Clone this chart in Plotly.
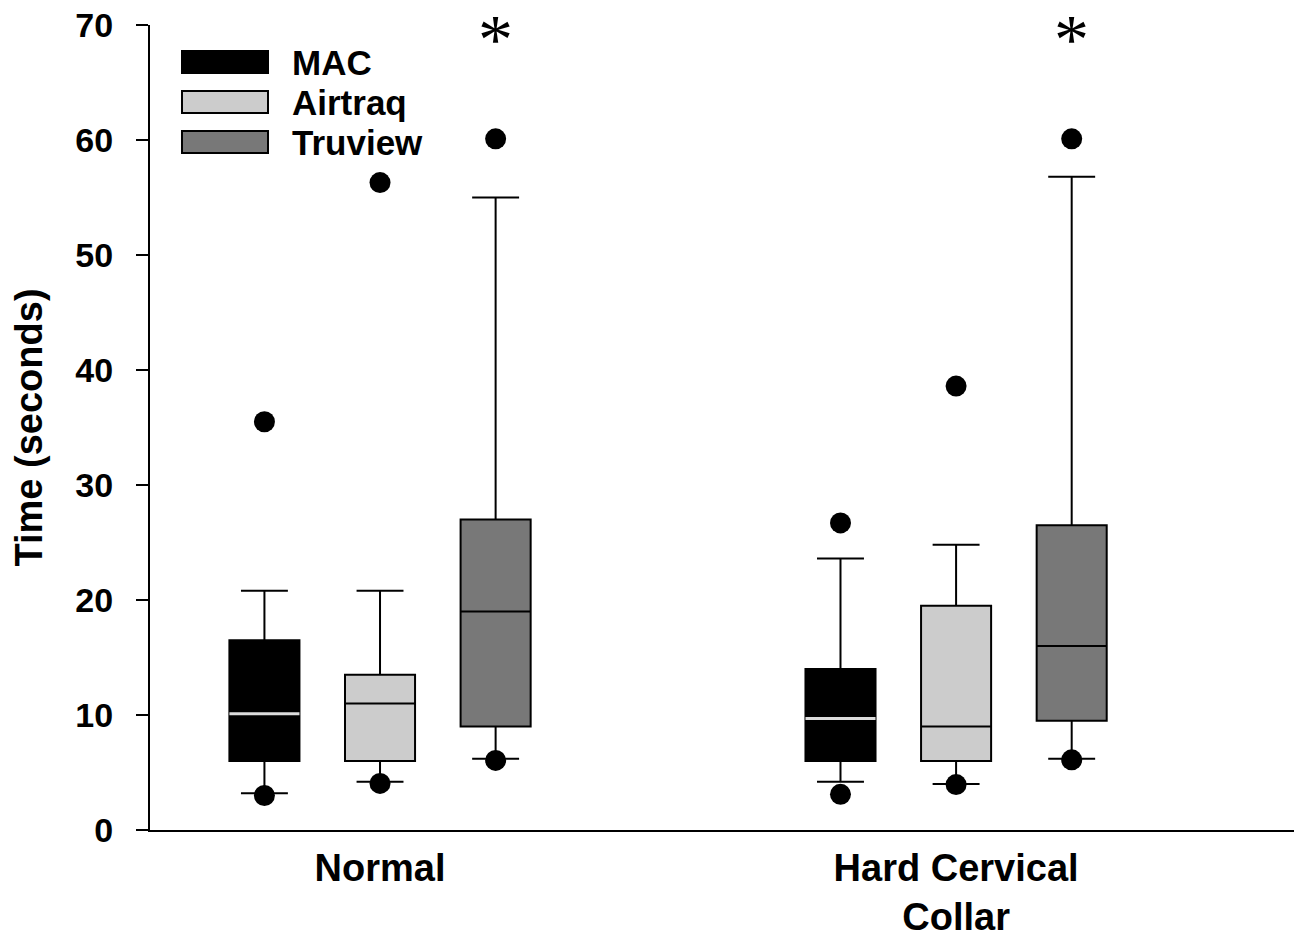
import plotly.graph_objects as go

# ---- data ----
categories = ["Normal", "Hard Cervical<br>Collar"]
series = ["MAC", "Airtraq", "Truview"]

mac_q1 = [6.0, 6.0]
mac_median = [10.1, 9.7]
mac_q3 = [16.5, 14.0]
mac_low = [3.2, 4.2]
mac_high = [20.8, 23.6]
mac_outliers = [[35.5, 3.0], [26.7, 3.1]]

air_q1 = [6.0, 6.0]
air_median = [11.0, 9.0]
air_q3 = [13.5, 19.5]
air_low = [4.2, 4.0]
air_high = [20.8, 24.8]
air_outliers = [[56.3, 4.05], [38.6, 3.95]]

tru_q1 = [9.0, 9.5]
tru_median = [19.0, 16.0]
tru_q3 = [27.0, 26.5]
tru_low = [6.2, 6.2]
tru_high = [55.0, 56.8]
tru_outliers = [[60.1, 6.05], [60.1, 6.1]]

significance = ["*", "*"]   # Truview marked in each condition
sig_level = [68.7, 68.7]

y_ticks = [0, 10, 20, 30, 40, 50, 60, 70]

# ---- styles ----
fills = {"MAC": "#000000", "Airtraq": "#cccccc", "Truview": "#787878"}
stats = {
    "MAC": (mac_q1, mac_median, mac_q3, mac_low, mac_high, mac_outliers),
    "Airtraq": (air_q1, air_median, air_q3, air_low, air_high, air_outliers),
    "Truview": (tru_q1, tru_median, tru_q3, tru_low, tru_high, tru_outliers),
}

fig = go.Figure()
for name in series:
    q1, med, q3, lo, hi, outl = stats[name]
    fig.add_trace(go.Box(
        name=name, x=categories, y=outl,
        q1=q1, median=med, q3=q3, lowerfence=lo, upperfence=hi,
        boxpoints="outliers", jitter=0, pointpos=0,
        fillcolor=fills[name],
        line=dict(color="black", width=2),
        marker=dict(color="black", size=21, line=dict(width=0)),
        whiskerwidth=0.67,
        offsetgroup=name, alignmentgroup="all",
        showlegend=False, hoverinfo="skip",
    ))
    if name == "MAC":
        # light median line drawn on top of the black box
        fig.add_trace(go.Box(
            name="MAC median", x=categories,
            q1=med, median=med, q3=med, lowerfence=med, upperfence=med,
            boxpoints=False, fillcolor="rgba(0,0,0,0)",
            line=dict(color="#dcdcdc", width=3),
            whiskerwidth=0,
            offsetgroup=name, alignmentgroup="all",
            showlegend=False, hoverinfo="skip",
        ))

# significance asterisks above the Truview boxes
for cat, s, lvl in zip(categories, significance, sig_level):
    fig.add_annotation(x=cat, y=lvl, text=s, showarrow=False,
                       xshift=115, yanchor="middle",
                       font=dict(family="Liberation Serif", size=70, color="black"))

# page offset of the plot (body margin of the html page)
OFF = 8
FIG_W, FIG_H = 1302, 935
# plot area in page pixels
L, R, T, B = 150, 1300, 25, 830
W, H = R - L, B - T

# manual legend (long swatches like the reference)
for i, name in enumerate(series):
    cy = 62 + 40 * i
    fig.add_shape(type="rect", xref="paper", yref="paper",
                  x0=(182 - L) / W, x1=(268 - L) / W,
                  y0=(B - cy - 11) / H, y1=(B - cy + 11) / H,
                  fillcolor=fills[name], line=dict(color="black", width=2))
    fig.add_annotation(xref="paper", yref="paper", x=(290 - L) / W, y=(B - cy) / H,
                       xanchor="left", yanchor="middle", showarrow=False,
                       text="<b>%s</b>" % name,
                       font=dict(family="Liberation Sans", size=35, color="black"))

fig.update_layout(
    width=FIG_W, height=FIG_H,
    margin=dict(l=L - OFF, r=FIG_W - (R - OFF), t=T - OFF, b=FIG_H - (B - OFF)),
    paper_bgcolor="white", plot_bgcolor="white",
    boxmode="group", boxgap=0.398, boxgroupgap=0.394,
    showlegend=False,
    font=dict(family="Liberation Sans", color="black"),
)
fig.update_xaxes(
    type="category", range=[-0.3993, 1.597], automargin=False,
    showline=True, linecolor="black", linewidth=2,
    ticks="", showgrid=False, zeroline=False,
    tickfont=dict(family="Liberation Sans", size=38, weight="bold"),
    ticklabelstandoff=3, ticklabeloverflow="allow",
)
fig.update_yaxes(
    range=[0, 70], tickvals=y_ticks, automargin=False,
    showline=True, linecolor="black", linewidth=2,
    ticks="outside", ticklen=12, tickwidth=2, tickcolor="black",
    showgrid=False, zeroline=False,
    tickfont=dict(family="Liberation Sans", size=34, weight="bold"),
    ticklabelstandoff=16, ticklabeloverflow="allow",
    title=dict(text="<b>Time (seconds)</b>", standoff=28,
               font=dict(family="Liberation Sans", size=38)),
)

fig.write_html("out.html")
